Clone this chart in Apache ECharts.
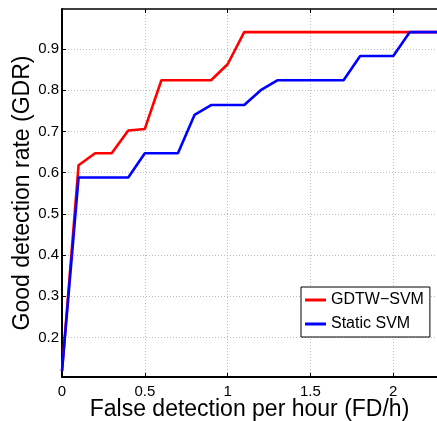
<!DOCTYPE html>
<html>
<head>
<meta charset="utf-8">
<script src="https://cdn.jsdelivr.net/npm/echarts@6/dist/echarts.min.js"></script>
<style>html,body{margin:0;padding:0;background:#fff}#c{width:437px;height:421px}</style>
</head>
<body>
<div id="c"></div>
<script>
var fdh = [0,0.1,0.2,0.3,0.4,0.5,0.6,0.7,0.8,0.9,1.0,1.1,1.2,1.3,1.4,1.5,1.6,1.7,1.8,1.9,2.0,2.1,2.2,2.3];
var gdtwSvm = [0.118,0.618,0.647,0.647,0.702,0.706,0.824,0.824,0.824,0.824,0.863,0.941,0.941,0.941,0.941,0.941,0.941,0.941,0.941,0.941,0.941,0.941,0.941,0.941];
var staticSvm = [0.118,0.588,0.588,0.588,0.588,0.647,0.647,0.647,0.740,0.764,0.764,0.764,0.800,0.824,0.824,0.824,0.824,0.824,0.883,0.883,0.883,0.941,0.941,0.941];
var xTicks = [0,0.5,1,1.5,2];
var yTicks = [0.2,0.3,0.4,0.5,0.6,0.7,0.8,0.9];
var seriesNames = ['GDTW\u2212SVM','Static SVM'];
var xTitle = 'False detection per hour (FD/h)';
var yTitle = 'Good detection rate (GDR)';

var FONT = 'Liberation Sans, Arial, Helvetica, sans-serif';
function pairs(xs, ys){ return xs.map(function(x,i){return [x, ys[i]];}); }
var chart = echarts.init(document.getElementById('c'), null, {renderer:'canvas'});
chart.setOption({
  animation:false,
  backgroundColor:'#fff',
  grid:{left:62, right:0, top:9, bottom:44, containLabel:false, outerBoundsMode:'none'},
  legend:{
    orient:'vertical', left:301, top:287,
    data:seriesNames,
    icon:'rect', itemWidth:21, itemHeight:3, itemGap:8,
    padding:[5,6,5,4],
    borderColor:'#000', borderWidth:1, backgroundColor:'#fff',
    textStyle:{fontFamily:FONT, fontSize:16, color:'#000', lineHeight:16}
  },
  xAxis:[{
    type:'value', min:0, max:2.264, position:'bottom',
    name:xTitle, nameLocation:'middle', nameGap:21, nameMoveOverlap:false,
    nameTextStyle:{fontFamily:FONT, fontSize:23, color:'#000'},
    axisLine:{show:true, onZero:false, lineStyle:{color:'#000', width:2}},
    axisTick:{show:true, inside:true, length:4, customValues:xTicks, lineStyle:{color:'#000'}},
    axisLabel:{fontFamily:FONT, fontSize:15, color:'#000', margin:7, customValues:xTicks,
      formatter:function(v){return String(v);}},
    splitLine:{show:true, lineStyle:{color:'#bdbdbd', type:[1,2], width:1}}
  },{
    type:'value', min:0, max:2.264, position:'top',
    axisLine:{show:true, onZero:false, lineStyle:{color:'#000', width:1.5}},
    axisTick:{show:true, inside:true, length:4, customValues:xTicks, lineStyle:{color:'#000'}},
    axisLabel:{show:false},
    splitLine:{show:false}
  }],
  yAxis:{
    type:'value', min:0.104, max:0.997,
    name:yTitle, nameLocation:'middle', nameGap:28, nameMoveOverlap:false,
    nameTextStyle:{fontFamily:FONT, fontSize:23, color:'#000'},
    axisLine:{show:true, onZero:false, lineStyle:{color:'#000', width:2}},
    axisTick:{show:true, inside:true, length:4, customValues:yTicks, lineStyle:{color:'#000'}},
    axisLabel:{fontFamily:FONT, fontSize:15, color:'#000', margin:3, customValues:yTicks,
      formatter:function(v){return v.toFixed(1);}},
    splitLine:{show:true, lineStyle:{color:'#bdbdbd', type:[1,2], width:1}}
  },
  series:[
    {name:seriesNames[0], type:'line', data:pairs(fdh,gdtwSvm), showSymbol:false, symbol:'none',
     lineStyle:{color:'#ff0000', width:2.6}, itemStyle:{color:'#ff0000'}, clip:true},
    {name:seriesNames[1], type:'line', data:pairs(fdh,staticSvm), showSymbol:false, symbol:'none',
     lineStyle:{color:'#0000ff', width:2.6}, itemStyle:{color:'#0000ff'}, clip:true}
  ]
});
</script>
</body>
</html>
